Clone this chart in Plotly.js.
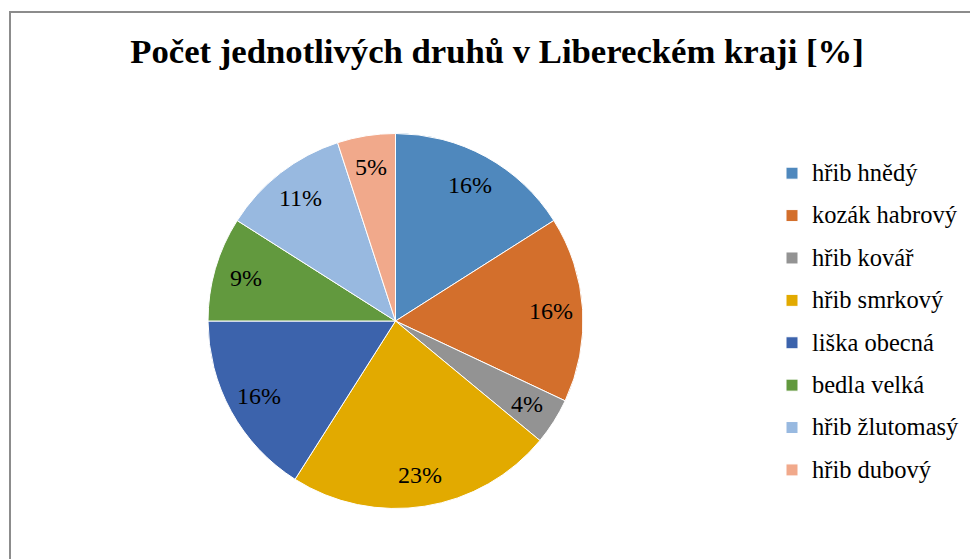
<!DOCTYPE html>
<html>
<head>
<meta charset="utf-8">
<script src="https://cdn.plot.ly/plotly-3.0.1.min.js"></script>
<style>html,body{margin:0;padding:0;background:#fff;}#chart{width:970px;height:559px;}</style>
</head>
<body>
<div id="chart"></div>
<script>
var categories = ["hřib hnědý", "kozák habrový", "hřib kovář", "hřib smrkový", "liška obecná", "bedla velká", "hřib žlutomasý", "hřib dubový"];
var values = [16, 16, 4, 23, 16, 9, 11, 5];
var colors = ["#4F88BD", "#D36F2C", "#939393", "#E2AA00", "#3C63AC", "#62993E", "#98B9E0", "#F1A98B"];
var chartTitle = "Počet jednotlivých druhů v Libereckém kraji [%]";

var FONT = 'Liberation Serif, Times New Roman, serif';
var W = 970, H = 559;
var cx = 395.5, cy = 321, R = 187.5;
var dom = {x: [(cx - R) / W, (cx + R) / W], y: [(H - cy - R) / H, (H - cy + R) / H]};

var labels = categories.map(function (c) {
  return '<span style="font-size:24.5px;baseline-shift:4px">' + c + '</span>';
});

var trace = {
  type: 'pie',
  labels: labels,
  values: values,
  sort: false,
  direction: 'clockwise',
  rotation: 0,
  domain: dom,
  marker: {colors: colors, line: {color: '#ffffff', width: 1}},
  textinfo: 'none',
  hoverinfo: 'label+percent'
};

// percentage labels placed at 0.83 of the radius along each slice's mid-angle
var total = values.reduce(function (a, b) { return a + b; }, 0);
var annotations = [];
var cum = 0;
values.forEach(function (v) {
  var mid = (cum + v / 2) / total * 2 * Math.PI;
  cum += v;
  var px = cx + 0.83 * R * Math.sin(mid);
  var py = cy - 0.83 * R * Math.cos(mid);
  annotations.push({
    xref: 'paper', yref: 'paper', x: px / W, y: (H - py) / H,
    xanchor: 'center', yanchor: 'middle', showarrow: false,
    text: Math.round(v / total * 100) + '%',
    font: {family: FONT, size: 24, color: '#000'}
  });
});

var layout = {
  width: W, height: H,
  margin: {l: 0, r: 0, t: 0, b: 0},
  paper_bgcolor: '#ffffff',
  font: {family: FONT, color: '#000'},
  title: {
    text: '<b>' + chartTitle + '</b>',
    x: 497 / W, xanchor: 'center', xref: 'paper',
    y: 1 - 51 / H, yanchor: 'middle', yref: 'container',
    font: {family: FONT, size: 34.7, color: '#000'}
  },
  showlegend: true,
  legend: {
    x: 772 / W, xanchor: 'left', y: (H - 147) / H, yanchor: 'top',
    font: {family: FONT, size: 30.3, color: '#000'},
    bgcolor: 'rgba(0,0,0,0)', borderwidth: 0, traceorder: 'normal'
  },
  annotations: annotations,
  shapes: [{
    type: 'rect', xref: 'paper', yref: 'paper',
    x0: 10 / W, x1: 1.2, y0: -0.2, y1: (H - 12) / H,
    line: {color: '#8C8C8C', width: 2}, fillcolor: 'rgba(0,0,0,0)', layer: 'above'
  }]
};

Plotly.newPlot('chart', [trace], layout, {displayModeBar: false, staticPlot: true});
</script>
</body>
</html>
